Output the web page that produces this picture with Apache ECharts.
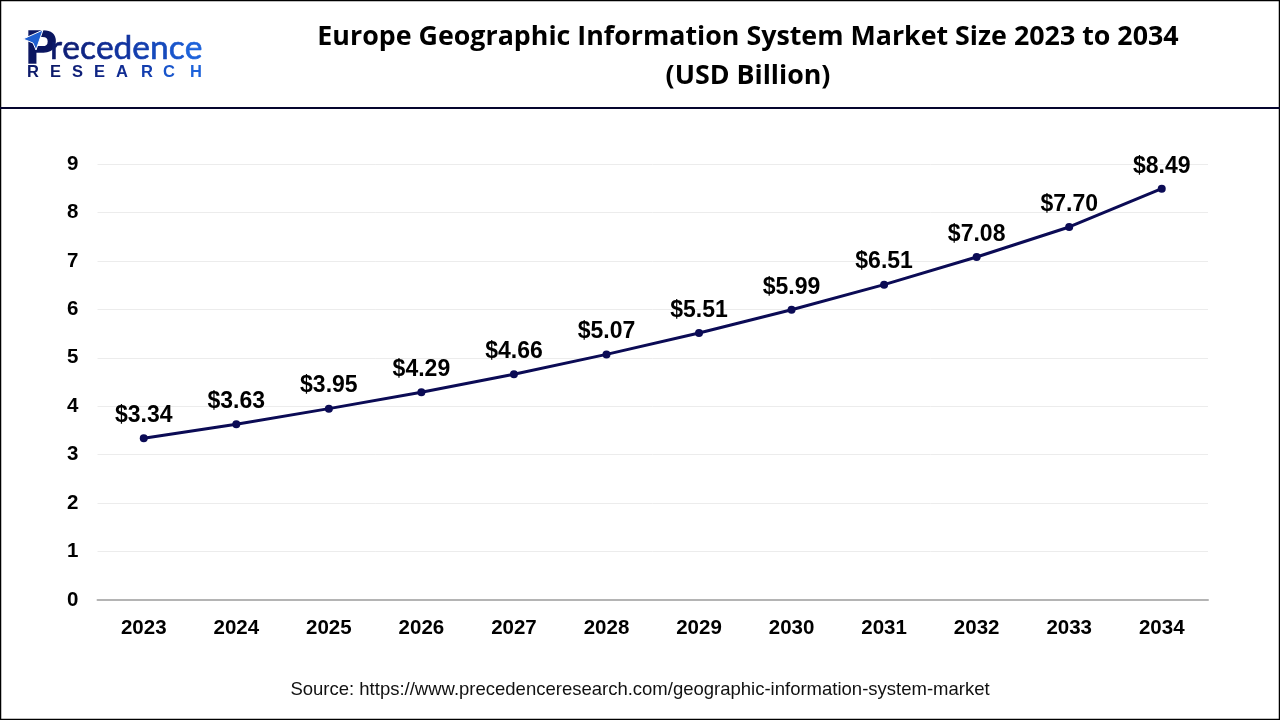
<!DOCTYPE html>
<html>
<head>
<meta charset="utf-8">
<script src="https://cdn.jsdelivr.net/npm/echarts@6/dist/echarts.min.js"></script>
<style>
    html, body { width: 100%; height: 100%; margin: 0; background: #fff; }
    #main { width: 1280px; height: 720px; }
</style>
</head>
<body>
<div id="main"></div>
<script>
var years = ['2023', '2024', '2025', '2026', '2027', '2028', '2029', '2030', '2031', '2032', '2033', '2034'];
var marketSize = [3.34, 3.63, 3.95, 4.29, 4.66, 5.07, 5.51, 5.99, 6.51, 7.08, 7.70, 8.49];
var yTicks = [0, 1, 2, 3, 4, 5, 6, 7, 8, 9];

var titleLines = 'Europe Geographic Information System Market Size 2023 to 2034\n(USD Billion)';
var sourceText = 'Source: https://www.precedenceresearch.com/geographic-information-system-market';

var navy = '#0b0b55';

// logo lettering, dark navy on the left to bright blue on the right
var logoWord = 'recedence'.split('');
var logoWordColors = ['#0c1a6a', '#0e1f78', '#0f2584', '#102c92', '#1234a0', '#133eae', '#164abc', '#1955cb', '#1d62da'];
var logoSub = 'RESEARCH'.split('');
var logoSubX = [27, 50, 72, 94, 116, 141, 163, 190];
var logoSubColors = ['#0c1a6a', '#0c1a6a', '#0e1f78', '#0f2584', '#102c92', '#133eae', '#1955cb', '#1d62da'];

var logoRich = {};
var logoText = '';
logoWord.forEach(function (c, i) {
    logoRich['c' + i] = { fill: logoWordColors[i], font: '33.5px "Lato"', stroke: logoWordColors[i], lineWidth: 0.6 };
    logoText += '{c' + i + '|' + c + '}';
});

var chart = echarts.init(document.getElementById('main'), null, { renderer: 'canvas' });
var option = {
    backgroundColor: '#fff',
    animation: false,
    grid: { left: 97.5, right: 72, top: 164, bottom: 120, containLabel: false },
    xAxis: {
        type: 'category',
        data: years,
        boundaryGap: true,
        axisLine: { lineStyle: { color: '#b4b4b4', width: 2 } },
        axisTick: { show: false },
        axisLabel: { color: '#000', fontFamily: 'Liberation Sans', fontWeight: 'bold', fontSize: 20.5, margin: 18 }
    },
    yAxis: {
        type: 'value',
        min: 0,
        max: 9,
        interval: 1,
        axisLine: { show: false },
        axisTick: { show: false },
        splitLine: { lineStyle: { color: '#ececec', width: 1 } },
        axisLabel: {
            color: '#000', fontFamily: 'Liberation Sans', fontWeight: 'bold', fontSize: 20.5, margin: 19,
            formatter: function (v) { return yTicks.indexOf(v) >= 0 ? String(v) : ''; }
        }
    },
    series: [{
        type: 'line',
        data: marketSize,
        symbol: 'circle',
        symbolSize: 8,
        smooth: false,
        lineStyle: { color: navy, width: 3 },
        itemStyle: { color: navy },
        label: {
            show: true,
            position: 'top',
            distance: 7,
            color: '#000',
            fontFamily: 'Liberation Sans',
            fontWeight: 'bold',
            fontSize: 23,
            formatter: function (p) { return '$' + p.value.toFixed(2); }
        }
    }],
    graphic: [
        // frame and header rule
        { type: 'rect', silent: true, z: 10, shape: { x: 0.5, y: 0.5, width: 1279, height: 719 }, style: { fill: 'none', stroke: '#000', lineWidth: 1.5 } },
        { type: 'rect', silent: true, z: 10, shape: { x: 0, y: 107, width: 1280, height: 2 }, style: { fill: '#05052e' } },
        // title
        { type: 'text', x: 748, y: 18, z: 10, style: { text: titleLines, x: 0, y: 0, align: 'center', fill: '#000', font: 'bold 26.8px "Open Sans"', lineHeight: 39 } },
        // source
        { type: 'text', x: 640, y: 680, z: 10, style: { text: sourceText, x: 0, y: 0, align: 'center', fill: '#111', font: '18.5px "Liberation Sans"' } },
        // logo
        { type: 'text', x: 26, y: 27, z: 10, style: { text: 'P', x: 0, y: 0, fill: '#0a1560', stroke: '#0a1560', lineWidth: 1.5, font: 'bold 46px "Liberation Sans"' } },
        { type: 'polygon', z: 11, silent: true, shape: { points: [[23, 39], [43, 30], [36, 50], [33, 43]] }, style: { fill: '#1f5fd0', stroke: '#fff', lineWidth: 1 } },
        { type: 'text', x: 50, y: 31, z: 10, style: { text: logoText, x: 0, y: 0, rich: logoRich } }
    ].concat(logoSub.map(function (c, i) {
        return { type: 'text', x: logoSubX[i], y: 64, z: 10, style: { text: c, x: 0, y: 0, fill: logoSubColors[i], font: 'bold 16.5px "Liberation Sans"' } };
    }))
};
chart.setOption(option);
window.onresize = chart.resize;
</script>
</body>
</html>
